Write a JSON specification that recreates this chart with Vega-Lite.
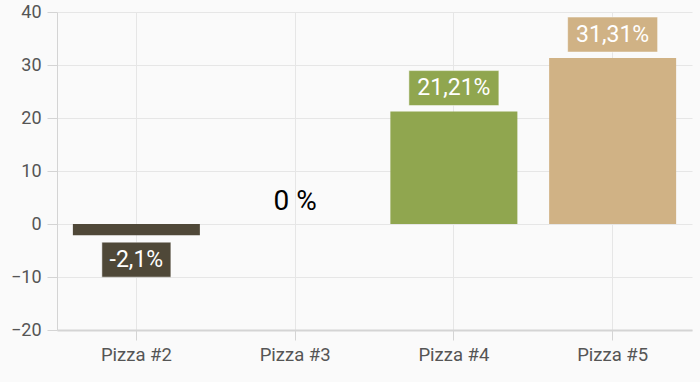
{
  "$schema": "https://vega.github.io/schema/vega-lite/v6.json",
  "width": 635,
  "height": 318,
  "autosize": {"type": "none"},
  "padding": {"left": 57, "top": 12, "right": 8, "bottom": 52},
  "background": "#fafafa",
  "config": {"view": {"stroke": null}, "font": "Roboto"},
  "data": {
    "values": [
      {"pizza": "Pizza #2", "value": -2.1, "label": "-2,1%"},
      {"pizza": "Pizza #3", "value": 0, "label": "0 %"},
      {"pizza": "Pizza #4", "value": 21.21, "label": "21,21%"},
      {"pizza": "Pizza #5", "value": 31.31, "label": "31,31%"}
    ]
  },
  "encoding": {
    "x": {
      "field": "pizza",
      "type": "nominal",
      "sort": null,
      "scale": {"paddingInner": 0.2, "paddingOuter": 0.1},
      "axis": {
        "title": null,
        "labelAngle": 0,
        "grid": true,
        "gridColor": "#e6e6e6",
        "bandPosition": 0.5,
        "domainColor": "#d4d4d4",
        "domainWidth": 2,
        "tickColor": "#d4d4d4",
        "tickSize": 10,
        "labelFontSize": 18.5,
        "labelColor": "#555555",
        "labelPadding": 5,
        "labelFont": "Roboto"
      }
    }
  },
  "layer": [
    {
      "mark": {"type": "bar"},
      "encoding": {
        "y": {
          "field": "value",
          "type": "quantitative",
          "scale": {"domain": [-20, 40], "nice": false},
          "axis": {
            "title": null,
            "values": [-20, -10, 0, 10, 20, 30, 40],
            "grid": true,
            "gridColor": "#e6e6e6",
            "domainColor": "#d4d4d4",
            "tickColor": "#d4d4d4",
            "tickSize": 10,
            "labelFontSize": 18,
            "labelColor": "#555555",
            "labelPadding": 6,
            "labelFont": "Roboto"
          }
        },
        "color": {
          "field": "pizza",
          "type": "nominal",
          "scale": {
            "domain": ["Pizza #2", "Pizza #3", "Pizza #4", "Pizza #5"],
            "range": ["#4f4838", "#4f4838", "#90a64f", "#d0b285"]
          },
          "legend": null
        }
      }
    },
    {
      "transform": [{"filter": "datum.value > 0"}],
      "mark": {"type": "bar", "width": 90, "yOffset": -41, "y2Offset": -6, "stroke": "#ffffff", "strokeWidth": 0.5},
      "encoding": {
        "y": {"field": "value", "type": "quantitative"},
        "y2": {"field": "value"},
        "color": {"field": "pizza", "type": "nominal", "legend": null}
      }
    },
    {
      "transform": [{"filter": "datum.value < 0"}],
      "mark": {"type": "bar", "width": 69, "yOffset": 42, "y2Offset": 7, "stroke": "#ffffff", "strokeWidth": 0.5},
      "encoding": {
        "y": {"field": "value", "type": "quantitative"},
        "y2": {"field": "value"},
        "color": {"field": "pizza", "type": "nominal", "legend": null}
      }
    },
    {
      "transform": [{"filter": "datum.value > 0"}],
      "mark": {"type": "text", "dy": -23.5, "baseline": "middle", "fontSize": 23, "color": "#ffffff", "font": "Roboto"},
      "encoding": {
        "y": {"field": "value", "type": "quantitative"},
        "text": {"field": "label"}
      }
    },
    {
      "transform": [{"filter": "datum.value < 0"}],
      "mark": {"type": "text", "dy": 24.5, "baseline": "middle", "fontSize": 23, "color": "#ffffff", "font": "Roboto"},
      "encoding": {
        "y": {"field": "value", "type": "quantitative"},
        "text": {"field": "label"}
      }
    },
    {
      "transform": [{"filter": "datum.value == 0"}],
      "mark": {"type": "text", "dy": -22, "baseline": "middle", "fontSize": 28, "color": "#000000", "font": "Roboto"},
      "encoding": {
        "y": {"field": "value", "type": "quantitative"},
        "text": {"field": "label"}
      }
    }
  ]
}
